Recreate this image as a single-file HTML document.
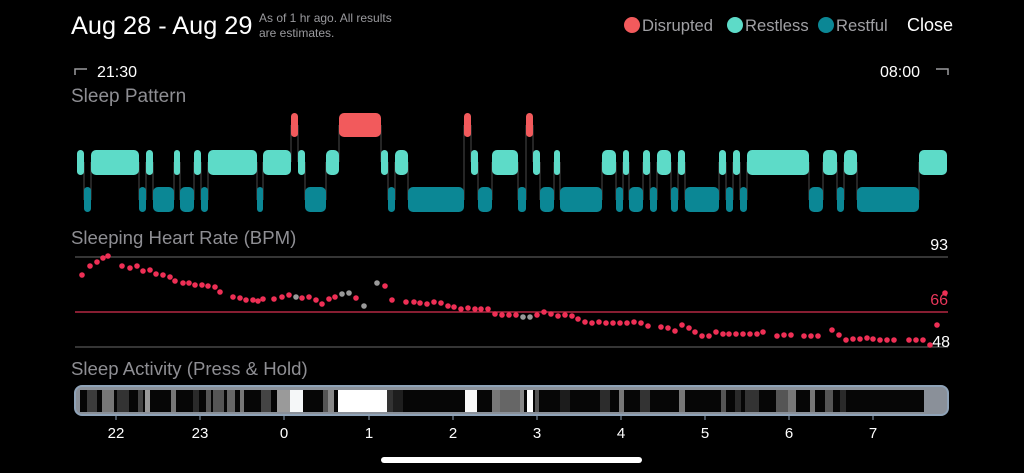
<!DOCTYPE html>
<html><head><meta charset="utf-8"><style>
html,body{margin:0;padding:0;background:#000;width:1024px;height:473px;overflow:hidden}
svg text{font-family:"Liberation Sans",sans-serif}
</style></head><body>
<svg width="1024" height="473" viewBox="0 0 1024 473" xmlns="http://www.w3.org/2000/svg">
<rect width="1024" height="473" fill="#000"/>
<!-- header -->
<text x="71" y="34" fill="#fff" font-size="25.3">Aug 28 - Aug 29</text>
<text x="259" y="22" fill="#9a9a9e" font-size="12">As of 1 hr ago. All results</text>
<text x="259" y="37" fill="#9a9a9e" font-size="12">are estimates.</text>
<circle cx="632" cy="25" r="8" fill="#f25a5c"/>
<text x="642" y="31" fill="#a0a0a4" font-size="16.6">Disrupted</text>
<circle cx="735" cy="25" r="8" fill="#5ddbc8"/>
<text x="745" y="31" fill="#a0a0a4" font-size="16.6">Restless</text>
<circle cx="826" cy="25" r="8" fill="#0b8795"/>
<text x="836" y="31" fill="#a0a0a4" font-size="16.6">Restful</text>
<text x="907" y="31" fill="#fff" font-size="18">Close</text>
<!-- time range -->
<path d="M75 75 V69 H87" stroke="#9a9a9e" stroke-width="1.5" fill="none"/>
<text x="97" y="77" fill="#fff" font-size="16">21:30</text>
<text x="880" y="77" fill="#fff" font-size="16">08:00</text>
<path d="M936 69 H948 V75" stroke="#9a9a9e" stroke-width="1.5" fill="none"/>
<text x="71" y="102" fill="#8e8e93" font-size="19">Sleep Pattern</text>
<!-- connectors -->
<g stroke="#4a4a4a" stroke-width="1">
<line x1="84" y1="162" x2="84" y2="200"/><line x1="91" y1="162" x2="91" y2="200"/>
<line x1="139" y1="162" x2="139" y2="200"/><line x1="146" y1="162" x2="146" y2="200"/>
<line x1="153" y1="162" x2="153" y2="200"/><line x1="174" y1="162" x2="174" y2="200"/>
<line x1="180" y1="162" x2="180" y2="200"/><line x1="194" y1="162" x2="194" y2="200"/>
<line x1="201" y1="162" x2="201" y2="200"/><line x1="208" y1="162" x2="208" y2="200"/>
<line x1="257" y1="162" x2="257" y2="200"/><line x1="263" y1="162" x2="263" y2="200"/>
<line x1="291" y1="125" x2="291" y2="162"/><line x1="298" y1="125" x2="298" y2="162"/>
<line x1="305" y1="162" x2="305" y2="200"/><line x1="326" y1="162" x2="326" y2="200"/>
<line x1="339" y1="125" x2="339" y2="162"/><line x1="381" y1="125" x2="381" y2="162"/>
<line x1="388" y1="162" x2="388" y2="200"/><line x1="395" y1="162" x2="395" y2="200"/>
<line x1="408" y1="162" x2="408" y2="200"/><line x1="464" y1="125" x2="464" y2="200"/>
<line x1="471" y1="125" x2="471" y2="162"/><line x1="478" y1="162" x2="478" y2="200"/>
<line x1="492" y1="162" x2="492" y2="200"/><line x1="518" y1="162" x2="518" y2="200"/>
<line x1="526" y1="125" x2="526" y2="200"/><line x1="533" y1="125" x2="533" y2="162"/>
<line x1="540" y1="162" x2="540" y2="200"/><line x1="554" y1="162" x2="554" y2="200"/>
<line x1="560" y1="162" x2="560" y2="200"/><line x1="602" y1="162" x2="602" y2="200"/>
<line x1="616" y1="162" x2="616" y2="200"/><line x1="623" y1="162" x2="623" y2="200"/>
<line x1="629" y1="162" x2="629" y2="200"/><line x1="643" y1="162" x2="643" y2="200"/>
<line x1="650" y1="162" x2="650" y2="200"/><line x1="657" y1="162" x2="657" y2="200"/>
<line x1="671" y1="162" x2="671" y2="200"/><line x1="678" y1="162" x2="678" y2="200"/>
<line x1="685" y1="162" x2="685" y2="200"/><line x1="719" y1="162" x2="719" y2="200"/>
<line x1="726" y1="162" x2="726" y2="200"/><line x1="733" y1="162" x2="733" y2="200"/>
<line x1="740" y1="162" x2="740" y2="200"/><line x1="747" y1="162" x2="747" y2="200"/>
<line x1="809" y1="162" x2="809" y2="200"/><line x1="823" y1="162" x2="823" y2="200"/>
<line x1="837" y1="162" x2="837" y2="200"/><line x1="844" y1="162" x2="844" y2="200"/>
<line x1="857" y1="162" x2="857" y2="200"/><line x1="919" y1="162" x2="919" y2="200"/>
</g>
<!-- restless -->
<g fill="#5ddbc8">
<rect x="77" y="150" width="7" height="25" rx="3.5"/><rect x="91" y="150" width="48" height="25" rx="5"/>
<rect x="146" y="150" width="7" height="25" rx="3.5"/><rect x="174" y="150" width="6" height="25" rx="3"/>
<rect x="194" y="150" width="7" height="25" rx="3.5"/><rect x="208" y="150" width="49" height="25" rx="5"/>
<rect x="263" y="150" width="28" height="25" rx="5"/><rect x="298" y="150" width="7" height="25" rx="3.5"/>
<rect x="326" y="150" width="13" height="25" rx="5"/><rect x="381" y="150" width="7" height="25" rx="3.5"/>
<rect x="395" y="150" width="13" height="25" rx="5"/><rect x="471" y="150" width="7" height="25" rx="3.5"/>
<rect x="492" y="150" width="26" height="25" rx="5"/><rect x="533" y="150" width="7" height="25" rx="3.5"/>
<rect x="554" y="150" width="6" height="25" rx="3"/><rect x="602" y="150" width="14" height="25" rx="5"/>
<rect x="623" y="150" width="6" height="25" rx="3"/><rect x="643" y="150" width="7" height="25" rx="3.5"/>
<rect x="657" y="150" width="14" height="25" rx="5"/><rect x="678" y="150" width="7" height="25" rx="3.5"/>
<rect x="719" y="150" width="7" height="25" rx="3.5"/><rect x="733" y="150" width="7" height="25" rx="3.5"/>
<rect x="747" y="150" width="62" height="25" rx="5"/><rect x="823" y="150" width="14" height="25" rx="5"/>
<rect x="844" y="150" width="13" height="25" rx="5"/><rect x="919" y="150" width="28" height="25" rx="5"/>
</g>
<!-- restful -->
<g fill="#0b8795">
<rect x="84" y="187" width="7" height="25" rx="3.5"/><rect x="139" y="187" width="7" height="25" rx="3.5"/>
<rect x="153" y="187" width="21" height="25" rx="5"/><rect x="180" y="187" width="14" height="25" rx="5"/>
<rect x="201" y="187" width="7" height="25" rx="3.5"/><rect x="257" y="187" width="6" height="25" rx="3"/>
<rect x="305" y="187" width="21" height="25" rx="5"/><rect x="388" y="187" width="7" height="25" rx="3.5"/>
<rect x="408" y="187" width="56" height="25" rx="5"/><rect x="478" y="187" width="14" height="25" rx="5"/>
<rect x="518" y="187" width="8" height="25" rx="3.5"/><rect x="540" y="187" width="14" height="25" rx="5"/>
<rect x="560" y="187" width="42" height="25" rx="5"/><rect x="616" y="187" width="7" height="25" rx="3.5"/>
<rect x="629" y="187" width="14" height="25" rx="5"/><rect x="650" y="187" width="7" height="25" rx="3.5"/>
<rect x="671" y="187" width="7" height="25" rx="3.5"/><rect x="685" y="187" width="34" height="25" rx="5"/>
<rect x="726" y="187" width="7" height="25" rx="3.5"/><rect x="740" y="187" width="7" height="25" rx="3.5"/>
<rect x="809" y="187" width="14" height="25" rx="5"/><rect x="837" y="187" width="7" height="25" rx="3.5"/>
<rect x="857" y="187" width="62" height="25" rx="5"/>
</g>
<!-- disrupted -->
<g fill="#f25a5c">
<rect x="291" y="113" width="7" height="24" rx="3.5"/><rect x="339" y="113" width="42" height="24" rx="5"/>
<rect x="464" y="113" width="7" height="24" rx="3.5"/><rect x="526" y="113" width="7" height="24" rx="3.5"/>
</g>
<!-- heart rate -->
<text x="71" y="244" fill="#8e8e93" font-size="18.6">Sleeping Heart Rate (BPM)</text>
<line x1="75" y1="257" x2="948" y2="257" stroke="#6a6a6a" stroke-width="1"/>
<line x1="75" y1="312" x2="948" y2="312" stroke="#d8304f" stroke-width="1.2"/>
<line x1="75" y1="347" x2="948" y2="347" stroke="#6a6a6a" stroke-width="1"/>
<text x="948" y="250" fill="#fff" font-size="16" text-anchor="end">93</text>
<text x="948" y="305" fill="#e8365a" font-size="16" text-anchor="end">66</text>
<text x="950" y="347" fill="#fff" font-size="16" text-anchor="end">48</text>
<g fill="#ee2f55">
<circle cx="82" cy="275" r="2.8"/><circle cx="90" cy="266" r="2.8"/><circle cx="97" cy="262" r="2.8"/><circle cx="103" cy="258" r="2.8"/><circle cx="108" cy="256" r="2.8"/><circle cx="122" cy="266" r="2.8"/><circle cx="130" cy="268" r="2.8"/><circle cx="137" cy="266" r="2.8"/><circle cx="143" cy="271" r="2.8"/><circle cx="150" cy="270" r="2.8"/><circle cx="156" cy="274" r="2.8"/><circle cx="163" cy="275" r="2.8"/><circle cx="170" cy="277" r="2.8"/><circle cx="175" cy="281" r="2.8"/><circle cx="183" cy="283" r="2.8"/><circle cx="189" cy="283" r="2.8"/><circle cx="195" cy="285" r="2.8"/><circle cx="202" cy="285" r="2.8"/><circle cx="208" cy="286" r="2.8"/><circle cx="215" cy="287" r="2.8"/><circle cx="220" cy="292" r="2.8"/><circle cx="233" cy="297" r="2.8"/><circle cx="240" cy="298" r="2.8"/><circle cx="246" cy="300" r="2.8"/><circle cx="253" cy="300" r="2.8"/><circle cx="258" cy="301" r="2.8"/><circle cx="263" cy="299" r="2.8"/><circle cx="274" cy="299" r="2.8"/><circle cx="282" cy="297" r="2.8"/><circle cx="289" cy="295" r="2.8"/><circle cx="302" cy="298" r="2.8"/><circle cx="309" cy="297" r="2.8"/><circle cx="316" cy="300" r="2.8"/><circle cx="322" cy="304" r="2.8"/><circle cx="329" cy="299" r="2.8"/><circle cx="335" cy="297" r="2.8"/><circle cx="356" cy="298" r="2.8"/><circle cx="385" cy="286" r="2.8"/><circle cx="392" cy="300" r="2.8"/><circle cx="406" cy="302" r="2.8"/><circle cx="414" cy="302" r="2.8"/><circle cx="420" cy="303" r="2.8"/><circle cx="427" cy="304" r="2.8"/><circle cx="434" cy="302" r="2.8"/><circle cx="441" cy="303" r="2.8"/><circle cx="448" cy="306" r="2.8"/><circle cx="454" cy="307" r="2.8"/><circle cx="461" cy="309" r="2.8"/><circle cx="468" cy="308" r="2.8"/><circle cx="475" cy="309" r="2.8"/><circle cx="481" cy="309" r="2.8"/><circle cx="488" cy="309" r="2.8"/><circle cx="495" cy="314" r="2.8"/><circle cx="502" cy="315" r="2.8"/><circle cx="509" cy="315" r="2.8"/><circle cx="516" cy="315" r="2.8"/><circle cx="537" cy="315" r="2.8"/><circle cx="544" cy="312" r="2.8"/><circle cx="551" cy="314" r="2.8"/><circle cx="558" cy="316" r="2.8"/><circle cx="565" cy="315" r="2.8"/><circle cx="572" cy="316" r="2.8"/><circle cx="578" cy="319" r="2.8"/><circle cx="585" cy="322" r="2.8"/><circle cx="592" cy="323" r="2.8"/><circle cx="599" cy="322" r="2.8"/><circle cx="606" cy="323" r="2.8"/><circle cx="613" cy="323" r="2.8"/><circle cx="620" cy="323" r="2.8"/><circle cx="627" cy="323" r="2.8"/><circle cx="634" cy="322" r="2.8"/><circle cx="641" cy="323" r="2.8"/><circle cx="648" cy="326" r="2.8"/><circle cx="661" cy="327" r="2.8"/><circle cx="668" cy="328" r="2.8"/><circle cx="675" cy="331" r="2.8"/><circle cx="682" cy="325" r="2.8"/><circle cx="689" cy="328" r="2.8"/><circle cx="695" cy="332" r="2.8"/><circle cx="702" cy="336" r="2.8"/><circle cx="709" cy="336" r="2.8"/><circle cx="716" cy="332" r="2.8"/><circle cx="723" cy="334" r="2.8"/><circle cx="729" cy="334" r="2.8"/><circle cx="736" cy="334" r="2.8"/><circle cx="743" cy="334" r="2.8"/><circle cx="750" cy="334" r="2.8"/><circle cx="757" cy="334" r="2.8"/><circle cx="763" cy="332" r="2.8"/><circle cx="777" cy="336" r="2.8"/><circle cx="784" cy="335" r="2.8"/><circle cx="791" cy="335" r="2.8"/><circle cx="804" cy="336" r="2.8"/><circle cx="811" cy="336" r="2.8"/><circle cx="818" cy="336" r="2.8"/><circle cx="832" cy="330" r="2.8"/><circle cx="839" cy="335" r="2.8"/><circle cx="846" cy="340" r="2.8"/><circle cx="853" cy="339" r="2.8"/><circle cx="860" cy="339" r="2.8"/><circle cx="867" cy="338" r="2.8"/><circle cx="873" cy="339" r="2.8"/><circle cx="880" cy="340" r="2.8"/><circle cx="887" cy="340" r="2.8"/><circle cx="894" cy="340" r="2.8"/><circle cx="909" cy="340" r="2.8"/><circle cx="916" cy="340" r="2.8"/><circle cx="923" cy="340" r="2.8"/><circle cx="930" cy="345" r="2.8"/><circle cx="937" cy="325" r="2.8"/><circle cx="945" cy="293" r="2.8"/>
</g>
<g fill="#9a9a9a">
<circle cx="296" cy="297" r="2.8"/><circle cx="342" cy="294" r="2.8"/><circle cx="349" cy="293" r="2.8"/><circle cx="364" cy="306" r="2.8"/><circle cx="377" cy="283" r="2.8"/><circle cx="523" cy="317" r="2.8"/><circle cx="530" cy="317" r="2.8"/>
</g>
<!-- activity -->
<text x="71" y="375" fill="#8e8e93" font-size="18.6">Sleep Activity (Press &amp; Hold)</text>
<rect x="75" y="386" width="873" height="29" rx="7" fill="#8a9099" stroke="#8fa3b8" stroke-width="2"/>
<rect x="80" y="390" width="844" height="22" fill="#060606"/>
<g>
<rect x="87" y="390" width="10" height="22" fill="#3c3c3c"/>
<rect x="102" y="390" width="12" height="22" fill="#777"/>
<rect x="117" y="390" width="12" height="22" fill="#333"/>
<rect x="138" y="390" width="5" height="22" fill="#444"/>
<rect x="145" y="390" width="5" height="22" fill="#999"/>
<rect x="171" y="390" width="5" height="22" fill="#777"/>
<rect x="193" y="390" width="6" height="22" fill="#2a2a2a"/>
<rect x="206" y="390" width="5" height="22" fill="#555"/>
<rect x="213" y="390" width="11" height="22" fill="#555"/>
<rect x="227" y="390" width="8" height="22" fill="#666"/>
<rect x="240" y="390" width="4" height="22" fill="#777"/>
<rect x="261" y="390" width="10" height="22" fill="#444"/>
<rect x="277" y="390" width="13" height="22" fill="#9a9a9a"/>
<rect x="290" y="390" width="13" height="22" fill="#f5f7f8"/>
<rect x="323" y="390" width="5" height="22" fill="#555"/>
<rect x="328" y="390" width="6" height="22" fill="#888"/>
<rect x="338" y="390" width="49" height="22" fill="#fff"/>
<rect x="387" y="390" width="6" height="22" fill="#333"/>
<rect x="393" y="390" width="10" height="22" fill="#1e1e1e"/>
<rect x="465" y="390" width="12" height="22" fill="#f8f8f8"/>
<rect x="492" y="390" width="8" height="22" fill="#777"/>
<rect x="500" y="390" width="20" height="22" fill="#666"/>
<rect x="520" y="390" width="4" height="22" fill="#888"/>
<rect x="527" y="390" width="6" height="22" fill="#fff"/>
<rect x="535" y="390" width="4" height="22" fill="#555"/>
<rect x="560" y="390" width="10" height="22" fill="#1c1c1c"/>
<rect x="600" y="390" width="10" height="22" fill="#2c2c2c"/>
<rect x="619" y="390" width="5" height="22" fill="#777"/>
<rect x="640" y="390" width="10" height="22" fill="#333"/>
<rect x="679" y="390" width="6" height="22" fill="#777"/>
<rect x="721" y="390" width="5" height="22" fill="#555"/>
<rect x="735" y="390" width="6" height="22" fill="#2a2a2a"/>
<rect x="745" y="390" width="14" height="22" fill="#333"/>
<rect x="776" y="390" width="12" height="22" fill="#555"/>
<rect x="788" y="390" width="8" height="22" fill="#777"/>
<rect x="810" y="390" width="5" height="22" fill="#777"/>
<rect x="825" y="390" width="8" height="22" fill="#555"/>
<rect x="840" y="390" width="6" height="22" fill="#2a2a2a"/>
</g>
<g stroke="#8fa3b8" stroke-width="1">
<line x1="116" y1="415" x2="116" y2="420"/><line x1="200" y1="415" x2="200" y2="420"/><line x1="284" y1="415" x2="284" y2="420"/><line x1="369" y1="415" x2="369" y2="420"/><line x1="453" y1="415" x2="453" y2="420"/><line x1="537" y1="415" x2="537" y2="420"/><line x1="621" y1="415" x2="621" y2="420"/><line x1="705" y1="415" x2="705" y2="420"/><line x1="789" y1="415" x2="789" y2="420"/><line x1="873" y1="415" x2="873" y2="420"/>
</g>
<g fill="#fff" font-size="15" text-anchor="middle">
<text x="116" y="438">22</text><text x="200" y="438">23</text><text x="284" y="438">0</text><text x="369" y="438">1</text><text x="453" y="438">2</text><text x="537" y="438">3</text><text x="621" y="438">4</text><text x="705" y="438">5</text><text x="789" y="438">6</text><text x="873" y="438">7</text>
</g>
<rect x="381" y="457" width="261" height="6" rx="3" fill="#fff"/>
</svg>
</body></html>
